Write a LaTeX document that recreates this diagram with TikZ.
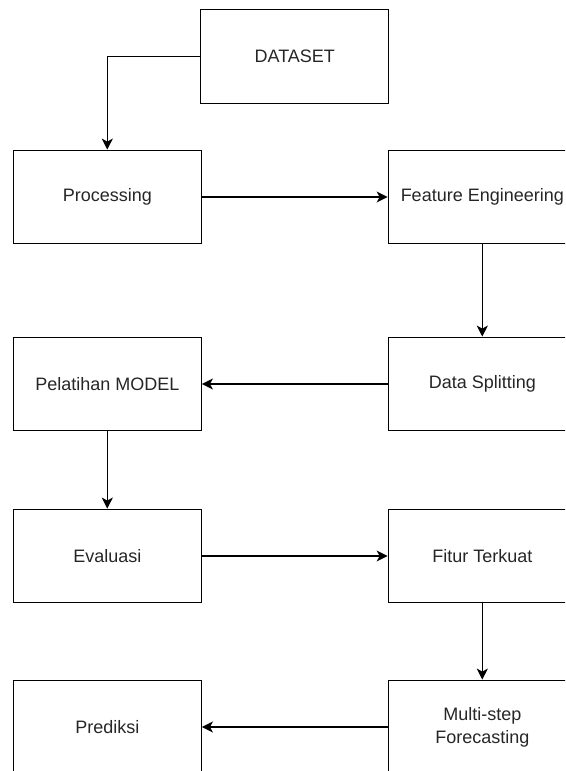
\documentclass[tikz,border=0pt]{standalone}
\usepackage{fontspec}
\setmainfont{Liberation Sans}
\usetikzlibrary{arrows.meta}
\begin{document}
\begin{tikzpicture}[x=1pt,y=-1pt,
  box/.style={draw=black,line width=1.3pt,minimum width=188pt,minimum height=93.5pt,inner sep=0pt,
    align=center,font=\fontsize{18}{23}\selectfont,text=black!85},
  arr/.style={draw=black,line width=1.3pt,-{Stealth[length=11pt,width=11pt,inset=3pt]}}]
\useasboundingbox (0,0) rectangle (565,771);
\clip (0,0) rectangle (565,771);
\node[box] (dataset) at (294.8,56.5) {DATASET};
\node[box] (proc) at (107.3,197) {Processing};
\node[box] (fe) at (482.3,197) {Feature Engineering};
\node[box] (ds) at (482.3,384) {Data Splitting};
\node[box] (pm) at (107.3,384) {Pelatihan MODEL};
\node[box] (ev) at (107.3,556) {Evaluasi};
\node[box] (ft) at (482.3,556) {Fitur Terkuat};
\node[box] (ms) at (482.3,727) {Multi-step\\Forecasting};
\node[box] (pred) at (107.3,727) {Prediksi};
\draw[arr] (dataset.west) -| (proc.north);
\draw[arr] (proc) -- (fe);
\draw[arr] (fe) -- (ds);
\draw[arr] (ds) -- (pm);
\draw[arr] (pm) -- (ev);
\draw[arr] (ev) -- (ft);
\draw[arr] (ft) -- (ms);
\draw[arr] (ms) -- (pred);
\end{tikzpicture}
\end{document}
